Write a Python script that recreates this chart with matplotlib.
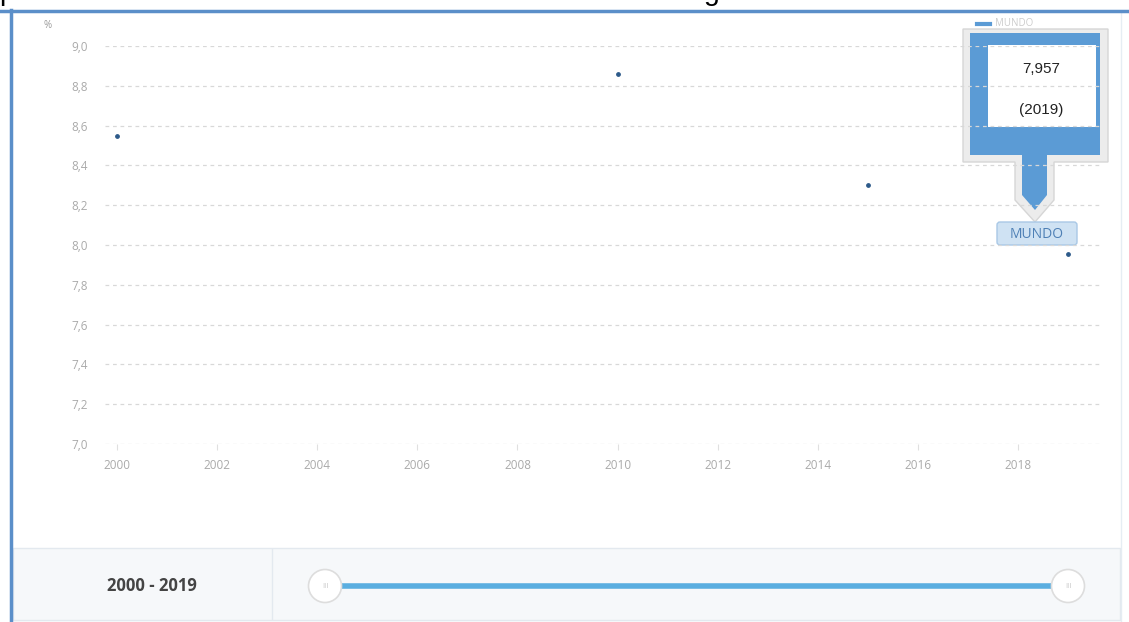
import matplotlib.pyplot as plt
from matplotlib.patches import Rectangle, Polygon, FancyBboxPatch, Circle
import numpy as np

# data
years = [2000, 2010, 2015, 2019]
values = [8.55, 8.86, 8.30, 7.957]
yticks = [7.0, 7.2, 7.4, 7.6, 7.8, 8.0, 8.2, 8.4, 8.6, 8.8, 9.0]
xticks = [2000, 2002, 2004, 2006, 2008, 2010, 2012, 2014, 2016, 2018]
callout_value = "7,957"
callout_year = "(2019)"
region = "MUNDO"
range_label = "2000 - 2019"
top_text = "publicada en Estadísticas Sanitarias Mundiales de la Organización Mundial de la Salud"

W, H = 1129, 622
plt.rcParams['font.family'] = ['Open Sans', 'DejaVu Sans']
fig = plt.figure(figsize=(W / 100, H / 100), dpi=100)

# overlay in pixel coords (origin top-left)
bg = fig.add_axes([0, 0, 1, 1])
bg.set_xlim(0, W)
bg.set_ylim(H, 0)
bg.axis('off')

# page frame
bg.add_patch(Rectangle((11, 11), 1110, 611, facecolor='white', edgecolor='#e6edf3', lw=1))
bg.plot([0, W], [10.5, 10.5], color='#5b8fc9', lw=2.5)
bg.plot([11, 11], [10, H], color='#5b8fc9', lw=2.5)
# text line of the page above, cut off by the crop
bg.text(0, 0.5, top_text, fontsize=20.5, family='Liberation Sans', color='black', va='baseline', ha='left')

# bottom range panel
bg.add_patch(Rectangle((13, 548), 1107, 72, facecolor='#f6f8fa', edgecolor='#e3e9ef', lw=1))
bg.plot([272, 272], [549, 619], color='#e3e9ef', lw=1)
bg.text(152, 586, range_label, fontsize=12, fontweight='bold', color='#444444', ha='center', va='center')
bg.plot([330, 1062], [586, 586], color='#5aaee0', lw=4, solid_capstyle='butt')
for cx in (325, 1068):
    bg.add_patch(Circle((cx, 586), 16.5, facecolor='white', edgecolor='#dddddd', lw=1.2, zorder=3))
    bg.text(cx, 586, 'III', fontsize=5.5, color='#c8c8c8', ha='center', va='center', zorder=4)

# main chart
ax = fig.add_axes([105 / W, (H - 444) / H, (1100 - 105) / W, (444 - 46) / H])
ax.set_xlim(2000 + (105 - 117) / 50.06, 2000 + (1100 - 117) / 50.06)
ax.set_ylim(7.0, 9.0)
ax.patch.set_alpha(0)
for s in ax.spines.values():
    s.set_visible(False)
ax.set_yticks(yticks)
ax.set_yticklabels([f"{v:.1f}".replace('.', ',') for v in yticks])
ax.set_xticks(xticks)
ax.set_xticklabels([str(x) for x in xticks])
ax.grid(axis='y', color='#d8d8d8', linestyle=(0, (3, 3)), lw=0.9)
ax.tick_params(axis='y', length=0, pad=12, labelsize=8.5, labelcolor='#aaaaaa')
ax.tick_params(axis='x', length=4, color='#e0e0e0', pad=7, labelsize=8.5, labelcolor='#aaaaaa')
ax.scatter(years, values, s=6, color='#2d5a8a', zorder=3)
bg.text(48, 25, '%', fontsize=7, color='#999999', ha='center', va='center')

# legend (mostly hidden)
bg.plot([977, 990], [24, 24], color='#5b9bd5', lw=3)
bg.text(995, 24, region, fontsize=7, color='#cccccc', va='center')

# callout box with arrow
shadow = Polygon([(963, 29), (1108, 29), (1108, 162), (1054, 162), (1054, 200),
                  (1035, 222), (1015, 200), (1015, 162), (963, 162)],
                 closed=True, facecolor='#ececec', edgecolor='#d6d6d6', lw=1, zorder=5)
bg.add_patch(shadow)
frame = Polygon([(970, 33), (1100, 33), (1100, 155), (1047, 155), (1047, 195),
                 (1035, 210), (1022, 195), (1022, 155), (970, 155)],
                closed=True, facecolor='#5b9bd5', edgecolor='none', zorder=6)
bg.add_patch(frame)
bg.add_patch(Rectangle((988, 45), 108, 82, facecolor='white', edgecolor='none', zorder=7))
bg.text(1041, 69, callout_value, fontsize=11, family='Liberation Sans', color='#222222', ha='center', va='center', zorder=8)
bg.text(1041, 110, callout_year, fontsize=11, family='Liberation Sans', color='#222222', ha='center', va='center', zorder=8)

# region label
bg.add_patch(FancyBboxPatch((997, 222), 80, 23, boxstyle='round,pad=0,rounding_size=3',
                            facecolor='#cfe2f3', edgecolor='#a9c8e6', lw=1, zorder=5))
bg.text(1037, 234, region, fontsize=10, color='#4d7fb5', ha='center', va='center', zorder=6)

fig.savefig('out.png', dpi=100)
